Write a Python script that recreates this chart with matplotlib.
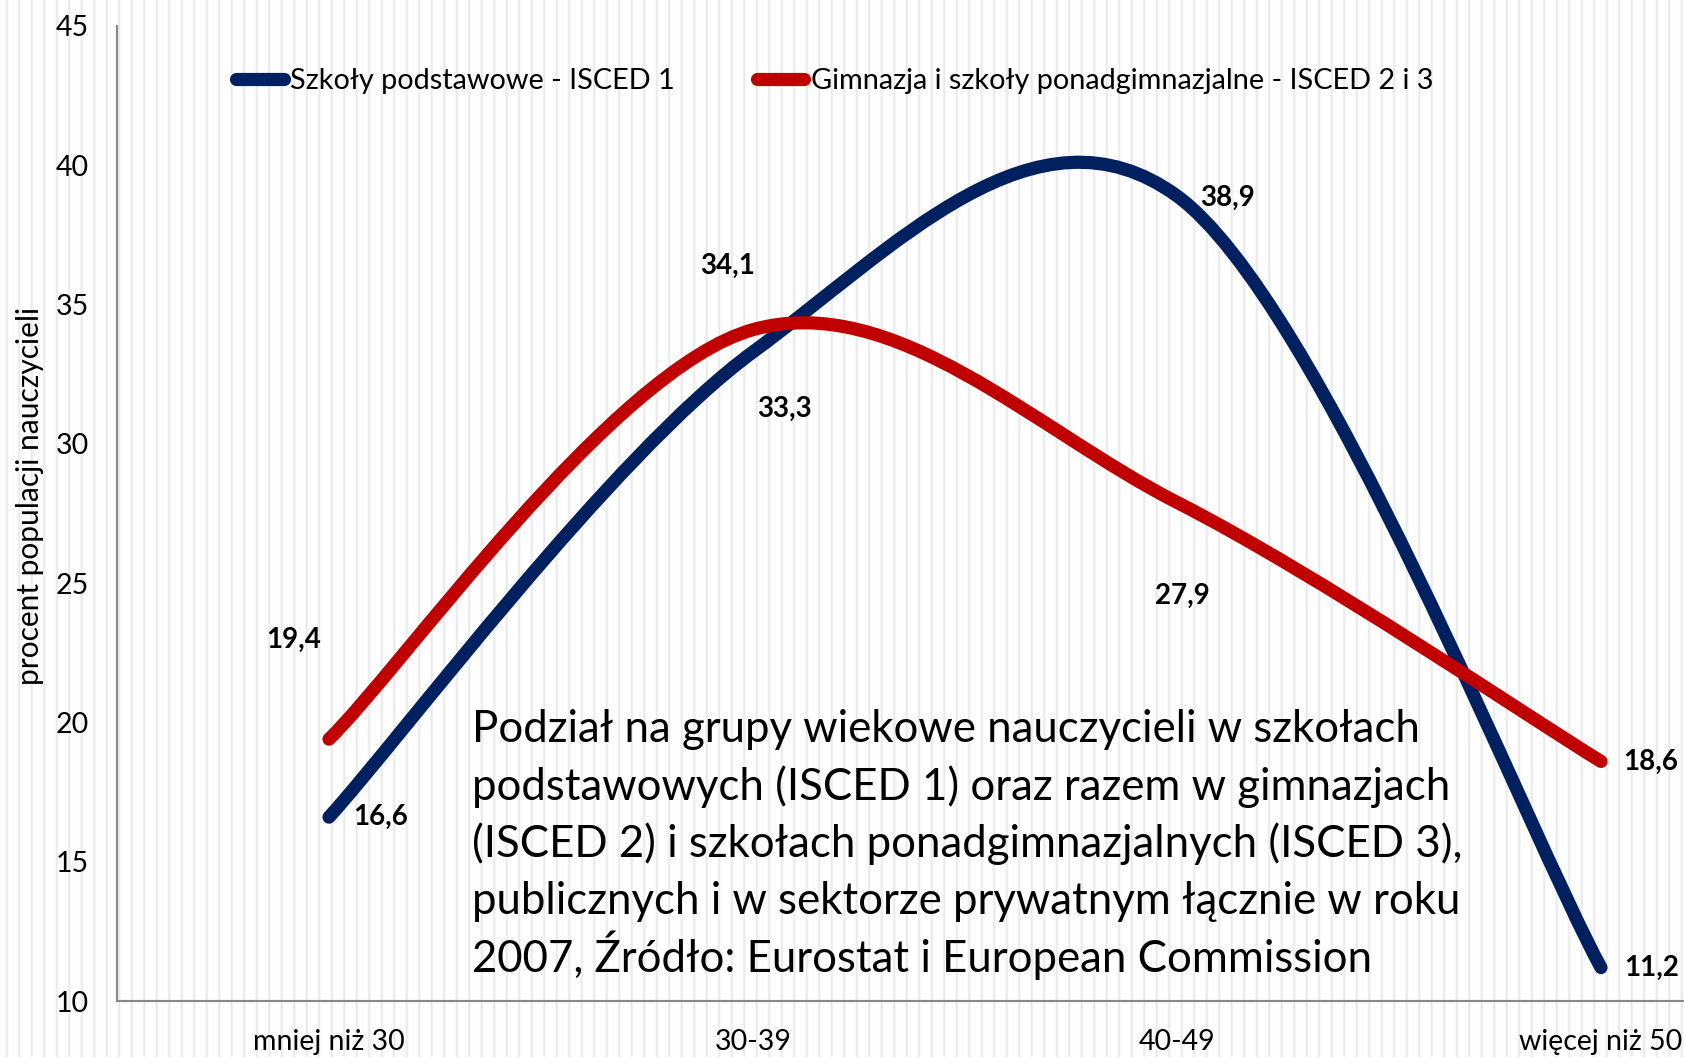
import numpy as np
import matplotlib
matplotlib.use('Agg')
import matplotlib.pyplot as plt
from matplotlib.path import Path
from matplotlib.patches import PathPatch
from matplotlib.lines import Line2D

plt.rcParams['font.family'] = ['Lato', 'DejaVu Sans']

# Data
categories = ['mniej niż 30', '30-39', '40-49', 'więcej niż 50']
isced1 = [16.6, 33.3, 38.9, 11.2]
isced23 = [19.4, 34.1, 27.9, 18.6]
label1 = 'Szkoły podstawowe - ISCED 1'
label23 = 'Gimnazja i szkoły ponadgimnazjalne - ISCED 2 i 3'
note_lines = ['Podział na grupy wiekowe nauczycieli w szkołach',
              'podstawowych (ISCED 1) oraz razem w gimnazjach',
              '(ISCED 2) i szkołach ponadgimnazjalnych (ISCED 3),',
              'publicznych i w sektorze prywatnym łącznie w roku',
              '2007, Źródło: Eurostat i European Commission']

BLUE = '#002060'
RED = '#C00000'
W, H = 1684, 1057


def smooth_path(xs, ys):
    # Excel-like smoothed line: Catmull-Rom -> cubic Bezier
    pts = np.column_stack([xs, ys]).astype(float)
    n = len(pts)
    verts = [pts[0]]
    codes = [Path.MOVETO]
    for i in range(n - 1):
        p0 = pts[max(i - 1, 0)]
        p1 = pts[i]
        p2 = pts[i + 1]
        p3 = pts[min(i + 2, n - 1)]
        verts += [p1 + (p2 - p0) / 6, p2 - (p3 - p1) / 6, p2]
        codes += [Path.CURVE4] * 3
    return Path(verts, codes)


fig = plt.figure(figsize=(W / 100, H / 100), dpi=100)
fig.patch.set_facecolor('white')

# striped background
xx = np.arange(W)
phase = (xx % 12.5) / 12.5
shade = 1 - 0.085 * np.exp(-((phase - 0.5) ** 2) / 0.01)
bg = np.tile(shade[None, :, None], (H, 1, 3))
fig.figimage(bg, 0, 0, zorder=-10)

ax = fig.add_axes([117 / W, 56 / H, 1696 / W, 975 / H])
ax.set_facecolor('none')
ax.set_xlim(-0.5, 3.5)
ax.set_ylim(10, 45)

x = np.arange(len(categories))
for ys, col in [(isced1, BLUE), (isced23, RED)]:
    patch = PathPatch(smooth_path(x, ys), facecolor='none', edgecolor=col,
                      lw=9.5, capstyle='round', joinstyle='round', zorder=3)
    ax.add_patch(patch)

for s in ['top', 'right']:
    ax.spines[s].set_visible(False)
for s in ['left', 'bottom']:
    ax.spines[s].set_color('#888888')
    ax.spines[s].set_linewidth(1.5)

ax.set_yticks(np.arange(10, 46, 5))
ax.set_xticks(x)
ax.set_xticklabels(categories)
ax.tick_params(axis='y', length=0, pad=20, labelsize=20.5)
ax.tick_params(axis='x', length=0, pad=20, labelsize=20.5)
ax.set_ylabel('procent populacji nauczycieli', fontsize=21.5, labelpad=12)
ax.yaxis.set_label_coords(-0.043, 0.518)

# data labels (offsets in pixels from points)
offs1 = [(52, 0), (31, -57), (51, -2), (51, 0)]
offs23 = [(-35, 99), (-25, 64), (5, -94), (50, 0)]
for ys, offs in [(isced1, offs1), (isced23, offs23)]:
    for xi, yi, (dx, dy) in zip(x, ys, offs):
        ax.annotate(f'{yi:.1f}'.replace('.', ','), (xi, yi), xytext=(dx, dy),
                    textcoords='offset pixels', ha='center', va='center',
                    fontsize=20, fontweight='bold', zorder=4)

handles = [Line2D([], [], color=BLUE, lw=9.5, solid_capstyle='round'),
           Line2D([], [], color=RED, lw=9.5, solid_capstyle='round')]
fig.legend(handles, [label1, label23], ncol=2, frameon=False, fontsize=20.8,
           loc='center left', bbox_to_anchor=(236 / W, 1 - 81 / H),
           handlelength=1.65, handletextpad=0.22, columnspacing=2.84,
           borderpad=0, borderaxespad=0)

for i, line in enumerate(note_lines):
    fig.text(472 / W, 1 - (742 + 57.5 * i) / H, line, fontsize=31.5,
             ha='left', va='baseline')

fig.savefig('out.png', dpi=100)
